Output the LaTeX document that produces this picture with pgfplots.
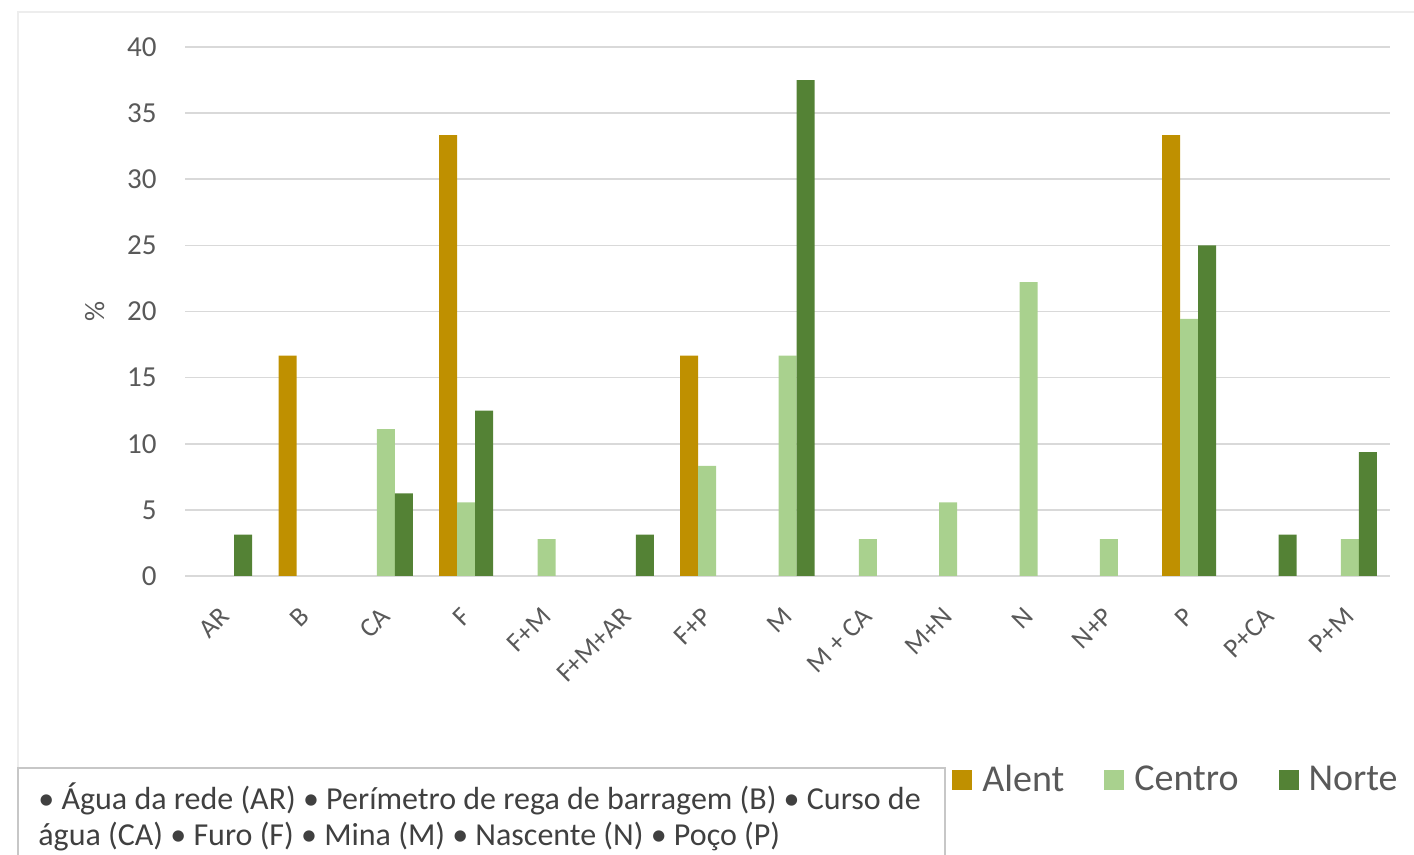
\documentclass[border=0pt]{standalone}
\usepackage{fontspec}
\setmainfont{Carlito}
\usepackage{pgfplots}
\pgfplotsset{compat=1.18}
\definecolor{alent}{HTML}{BF9000}
\definecolor{centro}{HTML}{A9D18E}
\definecolor{norte}{HTML}{548235}
\definecolor{gridc}{HTML}{D9D9D9}
\definecolor{txt}{HTML}{595959}
\definecolor{boxtxt}{HTML}{404040}
\begin{document}
\begin{tikzpicture}
\useasboundingbox (0,0) rectangle (707pt,427.5pt);
\draw[color=black!7, line width=0.75pt] (9pt,-1pt) -- (9pt,421.5pt) -- (708pt,421.5pt);
\begin{axis}[
  at={(92.5pt,139.5pt)}, anchor=south west,
  scale only axis, width=602.5pt, height=264.5pt,
  ybar=0pt, bar width=9pt,
  xmin=-0.5, xmax=14.5, ymin=0, ymax=40,
  xtick={0,...,14},
  xticklabels={AR,B,CA,F,F+M,F+M+AR,F+P,M,M + CA,M+N,N,N+P,P,P+CA,P+M},
  ytick={0,5,...,40},
  axis line style={draw=none},
  major tick length=0pt,
  ymajorgrids, grid style={gridc, line width=0.8pt},
  /pgf/number format/assume math mode=true,
  yticklabel style={font=\fontsize{14.5}{14.5}\selectfont, text=txt, anchor=east, inner sep=0pt, xshift=-14pt},
  xticklabel style={font=\fontsize{13.5}{13.5}\selectfont, text=txt, anchor=east, inner sep=0pt, yshift=-18pt, rotate=45},
  ylabel={\%},
  ylabel style={font=\fontsize{14}{14}\selectfont, text=txt, at={(axis description cs:-0.075,0.5)}, anchor=center},
  legend columns=3,
  legend style={at={(axis description cs:0.6365,-0.3856)}, anchor=west, draw=none, fill=none, inner sep=0pt,
    font=\fontsize{19}{19}\selectfont, text=txt,
    /tikz/every odd column/.append style={column sep=5pt},
    /tikz/every even column/.append style={column sep=20pt},
    nodes={inner sep=0pt}},
]
\addplot[fill=alent, draw=none, legend image code/.code={\fill[alent] (0pt,-5pt) rectangle (10pt,5pt);}]
  coordinates {(1,16.67) (3,33.33) (6,16.67) (12,33.33)};
\addplot[fill=centro, draw=none, legend image code/.code={\fill[centro] (0pt,-5pt) rectangle (10pt,5pt);}]
  coordinates {(2,11.11) (3,5.56) (4,2.78) (6,8.33) (7,16.67) (8,2.78) (9,5.56) (10,22.22) (11,2.78) (12,19.44) (14,2.78)};
\addplot[fill=norte, draw=none, legend image code/.code={\fill[norte] (0pt,-5pt) rectangle (10pt,5pt);}]
  coordinates {(0,3.125) (2,6.25) (3,12.5) (5,3.125) (7,37.5) (12,25) (13,3.125) (14,9.375)};
\legend{Alent, Centro, Norte}
\end{axis}
\draw[color=black!22, line width=0.75pt] (9pt,-2pt) rectangle (472.5pt,43.5pt);
\node[anchor=base west, inner sep=0pt, font=\fontsize{16}{16}\selectfont, text=boxtxt] at (19pt,22.5pt)
  {• Água da rede (AR) • Perímetro de rega de barragem (B) • Curso de};
\node[anchor=base west, inner sep=0pt, font=\fontsize{16}{16}\selectfont, text=boxtxt] at (19pt,4.5pt)
  {água (CA) • Furo (F) • Mina (M) • Nascente (N) • Poço (P)};
\end{tikzpicture}
\end{document}
